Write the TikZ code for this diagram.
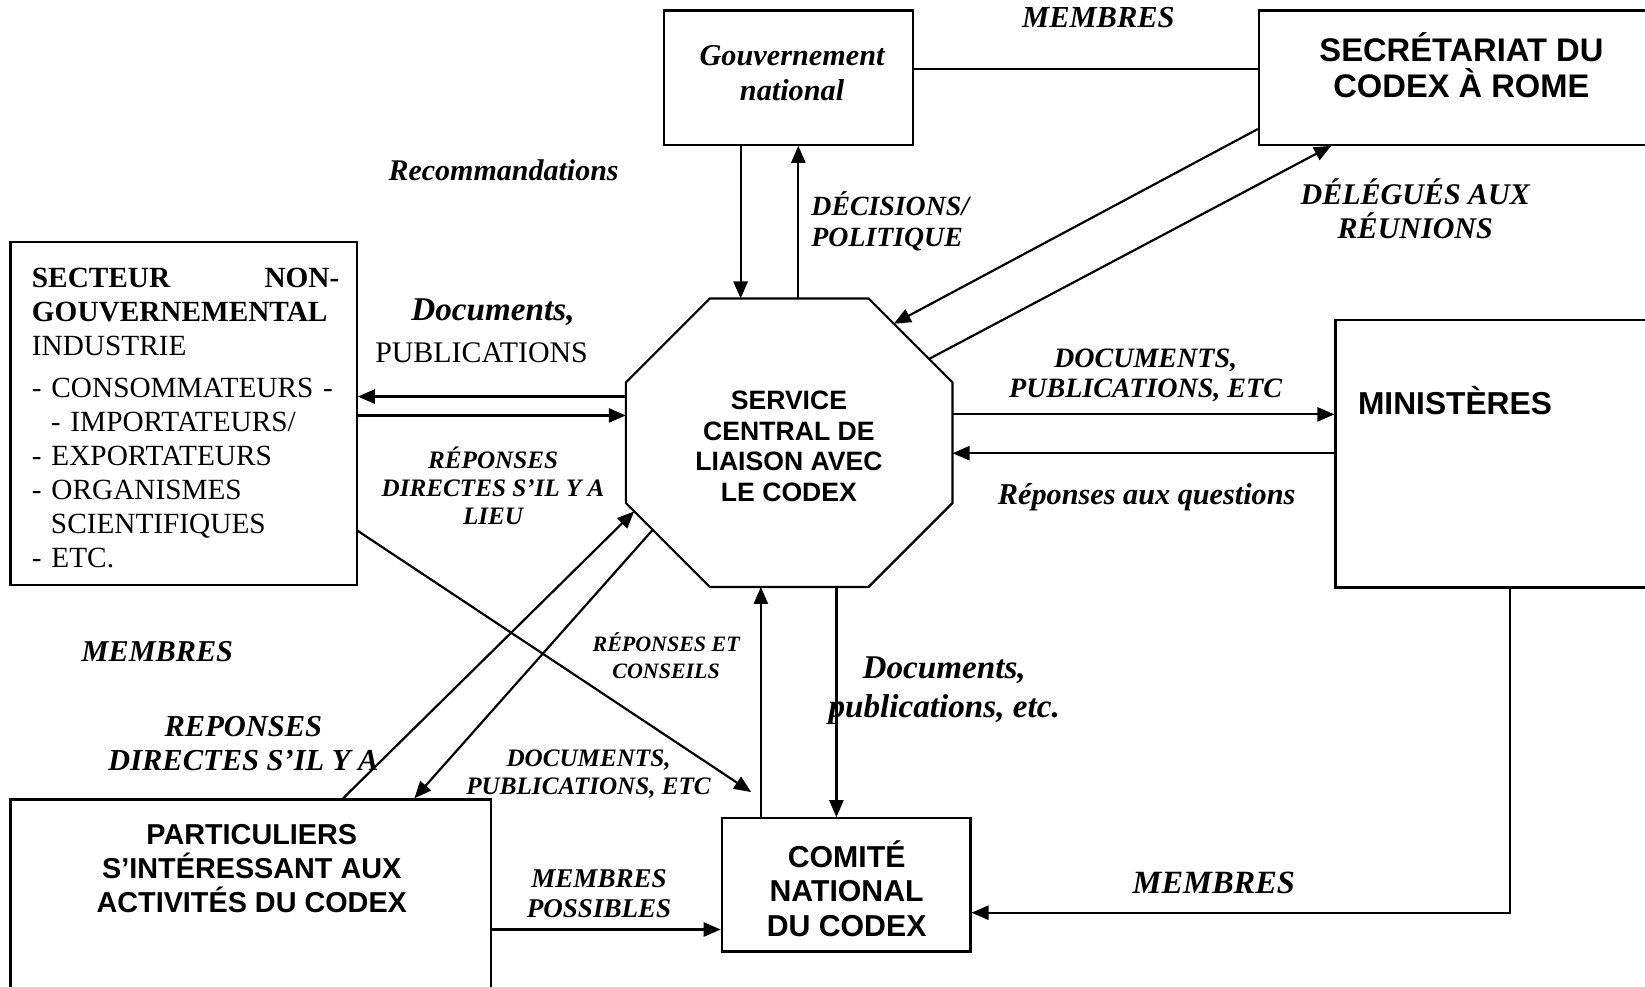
\documentclass[tikz,border=0pt]{standalone}
\usepackage{fontspec}
\setmainfont{Liberation Serif}
\setsansfont{Liberation Sans}
\usetikzlibrary{arrows.meta,calc}
\newcommand{\setfs}[2]{\fontsize{#1}{#2}\selectfont}

\begin{document}
\begin{tikzpicture}[x=0.43pt,y=-0.43pt,
  box/.style={draw,line width=0.9pt,inner sep=0pt},
  lbl/.style 2 args={align=center,inner sep=0pt,font=\bfseries\itshape\setfs{#1}{#2}},
  ttl/.style 2 args={align=center,inner sep=0pt,font=\sffamily\bfseries\setfs{#1}{#2}},
  con/.style={line width=0.9pt},
  arr/.style={line width=0.9pt,-{Triangle[length=7pt,width=5.8pt]}}]
\useasboundingbox (0,0) rectangle (1568,940);
\clip (0,0) rectangle (1568,940);

% boxes
\node[box,minimum width=101.9pt,minimum height=55pt] (gov) at (751.5,74) {};
\node[lbl={12.4}{14.2}] (govtxt) at (755,69.5) {Gouvernement\\national};
\node[box,minimum width=166pt,minimum height=55pt] (sec) at (1393,74) {};
\node[ttl={13.4}{14.6}] (sectxt) at (1393,62) {SECRÉTARIAT DU\\CODEX À ROME};
\node[box,minimum width=141.9pt,minimum height=140.6pt] (ngo) at (175,394.5) {};
\node[anchor=north west,inner sep=0pt,text width=126pt,align=left,font=\setfs{12}{13.9}] (ngotxt) at (30,255.5)
  {\textbf{SECTEUR\hfill NON-}\\ \textbf{GOUVERNEMENTAL}\\ INDUSTRIE\\[3.4pt] - CONSOMMATEURS -\\
   \hspace*{0.65em}- IMPORTATEURS/\\ - EXPORTATEURS\\ - ORGANISMES\\ \hspace*{0.65em}SCIENTIFIQUES\\ - ETC.};
\node[box,minimum width=136.3pt,minimum height=109.65pt] (min) at (1431.5,432.5) {};
\node[ttl={13}{15},anchor=west] (mintxt) at (1294,382) {MINISTÈRES};
\node[box,minimum width=196.9pt,minimum height=85.1pt] (part) at (239,861) {};
\node[ttl={11.8}{13.8}] (parttxt) at (240,828) {PARTICULIERS\\S’INTÉRESSANT AUX\\ACTIVITÉS DU CODEX};
\node[box,minimum width=101.9pt,minimum height=54.6pt] (com) at (806.5,843.5) {};
\node[ttl={12.4}{14.2}] (comtxt) at (807,847) {COMITÉ\\NATIONAL\\DU CODEX};

% octagone
\node[minimum width=133.5pt,minimum height=117.8pt,inner sep=0pt] (svc) at (752.25,422) {};
\node[ttl={10.9}{12.5}] (svctxt) at (752,425.5) {SERVICE\\CENTRAL DE\\LIAISON AVEC\\LE CODEX};
\coordinate (oNE1) at ($(svc.north east)+(-80,0)$);
\coordinate (oNE2) at ($(svc.north east)+(0,80)$);
\coordinate (oSW1) at ($(svc.south west)+(0,-80)$);
\coordinate (oSW2) at ($(svc.south west)+(80,0)$);
\draw[con] ($(svc.north west)+(80,0)$) -- (oNE1) -- (oNE2) -- ($(svc.south east)+(0,-80)$)
  -- ($(svc.south east)+(-80,0)$) -- (oSW2) -- (oSW1) -- ($(svc.north west)+(0,80)$) -- cycle;

% labels
\node[lbl={12.5}{14}] (memT) at (1047,17) {MEMBRES};
\node[lbl={12.3}{14}] (recom) at (480,162) {Recommandations};
\node[lbl={11.4}{12.9},align=left,anchor=west] (decis) at (773,211) {DÉCISIONS/\\POLITIQUE};
\node[lbl={12.3}{13.8}] (deleg) at (1349,199) {DÉLÉGUÉS AUX\\RÉUNIONS};
\node[lbl={13.6}{17.2}] (docpub) at (459,315) {\hspace*{9.4pt}Documents,\\\normalfont\setfs{12.25}{17.2}PUBLICATIONS};
\node[lbl={10.3}{11.6}] (repdir) at (470,463) {RÉPONSES\\DIRECTES S’IL Y A\\LIEU};
\node[lbl={11.5}{12.5}] (docR) at (1092,358) {DOCUMENTS,\\PUBLICATIONS, ETC};
\node[lbl={12.4}{14}] (repq) at (1093,474) {Réponses aux questions};
\node[lbl={12.4}{14}] (memL) at (150,621) {MEMBRES};
\node[lbl={9}{11.2}] (repcon) at (635,625) {RÉPONSES ET\\CONSEILS};
\node[lbl={13.6}{15.9}] (docB) at (900,658) {Documents,\\publications, etc.};
\node[lbl={12.5}{13.8}] (repdir2) at (232,709) {REPONSES\\DIRECTES S’IL Y A};
\node[lbl={10.3}{11.6}] (docL) at (561,738) {DOCUMENTS,\\PUBLICATIONS, ETC};
\node[lbl={11.1}{12.5}] (memP) at (571,852) {MEMBRES\\POSSIBLES};
\node[lbl={13.3}{15}] (memB) at (1157,842) {MEMBRES};

% connectors
\coordinate (g1) at ($(gov.south west)+(74,0)$);
\coordinate (g2) at ($(gov.south west)+(129,0)$);
\draw[arr] (g1) -- (g1 |- svc.north);
\draw[arr] (g2 |- svc.north) -- (g2);
\coordinate (gs) at ($(gov.east)+(0,-8)$);
\draw[con] (gs) -- (gs -| sec.west);
\coordinate (s1) at ($(sec.south west)+(0,-16)$);
\coordinate (s2) at ($(sec.south west)+(70,0)$);
\draw[arr] (s1) -- ($(oNE1)!0.3!(oNE2)$);
\draw[arr] ($(oNE1)!0.72!(oNE2)$) -- (s2);
\coordinate (w1) at ($(svc.west)+(0,-44)$);
\coordinate (w2) at ($(svc.west)+(0,-26)$);
\draw[arr] (w1) -- (w1 -| ngo.east);
\draw[arr] (w2 -| ngo.east) -- (w2);
\coordinate (e1) at ($(svc.east)+(0,-27)$);
\coordinate (e2) at ($(svc.east)+(0,10)$);
\draw[arr] (e1) -- (e1 -| min.west);
\draw[arr] (e2 -| min.west) -- (e2);
\coordinate (b1) at ($(svc.south)+(-27,0)$);
\coordinate (b2) at ($(svc.south)+(45,0)$);
\draw[arr] (b1 |- com.north) -- (b1);
\draw[arr] (b2) -- (b2 |- com.north);
\coordinate (m1) at ($(min.south)+(8,0)$);
\coordinate (c1) at ($(com.east)+(0,26.5)$);
\draw[arr] (m1) |- (c1);
\coordinate (c2) at ($(com.west)+(0,42.5)$);
\draw[arr] (c2 -| part.east) -- (c2);
\coordinate (n1) at ($(ngo.south east)+(0,-53)$);
\coordinate (n2) at (716,755);
\draw[arr] (n1) -- (n2);
\coordinate (p1) at ($(part.north west)+(318,0)$);
\coordinate (p2) at ($(part.north west)+(386,0)$);
\draw[arr] (p1) -- ($(oSW1)!0.1!(oSW2)$);
\draw[arr] ($(oSW1)!0.32!(oSW2)$) -- (p2);
\end{tikzpicture}
\end{document}
